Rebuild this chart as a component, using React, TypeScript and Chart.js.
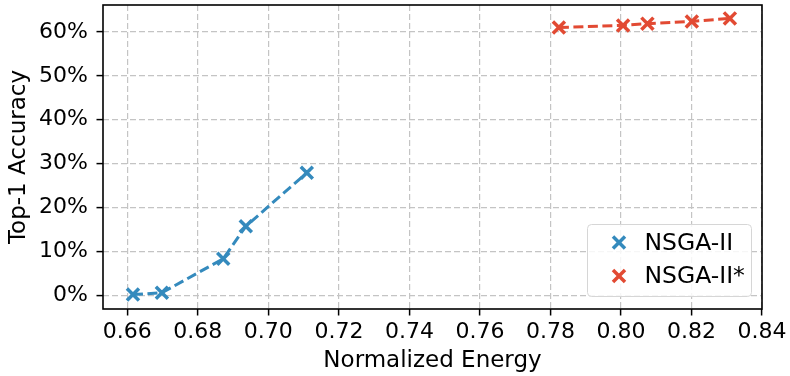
import React, { useEffect, useRef } from "react";
import { Chart, registerables } from "chart.js";

Chart.register(...registerables);

const X_TICKS = [0.66, 0.68, 0.7, 0.72, 0.74, 0.76, 0.78, 0.8, 0.82, 0.84];
const Y_TICKS = [0, 10, 20, 30, 40, 50, 60];

const NSGA2_LABEL = "NSGA-II";
const NSGA2_ENERGY = [0.6616, 0.6698, 0.6872, 0.6936, 0.7109];
const NSGA2_ACC = [0.15, 0.55, 8.3, 15.7, 27.9];

const NSGA2S_LABEL = "NSGA-II*";
const NSGA2S_ENERGY = [0.7824, 0.8006, 0.8075, 0.8201, 0.8309];
const NSGA2S_ACC = [61.0, 61.5, 61.9, 62.4, 63.1];

const BLUE = "#348ABD";
const RED = "#E24A33";
const FONT = "'DejaVu Sans', sans-serif";

function drawX(ctx: CanvasRenderingContext2D, x: number, y: number, r: number, color: string, w: number) {
  const o = r * Math.SQRT1_2;
  ctx.save();
  ctx.strokeStyle = color;
  ctx.lineWidth = w;
  ctx.beginPath();
  ctx.moveTo(x - o, y - o);
  ctx.lineTo(x + o, y + o);
  ctx.moveTo(x + o, y - o);
  ctx.lineTo(x - o, y + o);
  ctx.stroke();
  ctx.restore();
}

const framePlugin = {
  id: "frame",
  afterDraw(chart: any) {
    const { ctx, chartArea: a } = chart;
    ctx.save();
    ctx.strokeStyle = "#000";
    ctx.lineWidth = 1.6;
    ctx.strokeRect(a.left, a.top, a.right - a.left, a.bottom - a.top);
    ctx.restore();

    // legend
    const w = 164;
    const h = 72;
    const left = a.right - 10.5 - w;
    const top = a.bottom - 12.5 - h;
    ctx.save();
    ctx.beginPath();
    const r = 4;
    ctx.moveTo(left + r, top);
    ctx.arcTo(left + w, top, left + w, top + h, r);
    ctx.arcTo(left + w, top + h, left, top + h, r);
    ctx.arcTo(left, top + h, left, top, r);
    ctx.arcTo(left, top, left + w, top, r);
    ctx.closePath();
    ctx.fillStyle = "rgba(255,255,255,0.85)";
    ctx.fill();
    ctx.strokeStyle = "#d6d6d6";
    ctx.lineWidth = 1;
    ctx.stroke();
    chart.data.datasets.forEach((ds: any, i: number) => {
      const cy = top + 18 + i * 33.5;
      drawX(ctx, left + 31.5, cy, 8.5, ds.borderColor, 3.5);
      ctx.fillStyle = "#000";
      ctx.font = `23.5px ${FONT}`;
      ctx.textBaseline = "middle";
      ctx.textAlign = "left";
      ctx.fillText(ds.label, left + 57, cy + 1);
    });
    ctx.restore();
  },
};

export default function App() {
  const ref = useRef<HTMLCanvasElement | null>(null);
  useEffect(() => {
    document.body.style.margin = "0";
    const mk = (xs: number[], ys: number[]) => xs.map((x, i) => ({ x, y: ys[i] }));
    const dsStyle = (color: string) => ({
      borderColor: color,
      backgroundColor: color,
      pointStyle: "crossRot",
      pointRadius: 8.5,
      pointHoverRadius: 8.5,
      pointBorderWidth: 3.5,
      borderWidth: 3,
      borderDash: [10, 4.5],
      showLine: true,
      fill: false,
      clip: false,
    });
    const gridCommon = {
      color: "#c4c4c4",
      lineWidth: 1.2,
      tickColor: "#000",
      tickLength: 6.5,
      tickWidth: 1.5,
      drawTicks: true,
    };
    const chart = new Chart(ref.current as HTMLCanvasElement, {
      type: "scatter",
      data: {
        datasets: [
          { label: NSGA2_LABEL, data: mk(NSGA2_ENERGY, NSGA2_ACC), ...dsStyle(BLUE) } as any,
          { label: NSGA2S_LABEL, data: mk(NSGA2S_ENERGY, NSGA2S_ACC), ...dsStyle(RED) } as any,
        ],
      },
      options: {
        responsive: false,
        animation: false,
        devicePixelRatio: 1,
        layout: { autoPadding: false, padding: { top: 5, right: 28, left: 0, bottom: 0 } },
        plugins: { legend: { display: false }, tooltip: { enabled: false } },
        scales: {
          x: {
            type: "linear",
            min: 0.6531,
            max: 0.84,
            grid: gridCommon,
            border: { display: false, dash: [6, 3] },
            ticks: {
              font: { family: FONT, size: 22 },
              color: "#000",
              padding: 3.5,
              maxRotation: 0,
              autoSkip: false,
              callback: (v: any) => Number(v).toFixed(2),
            },
            title: {
              display: true,
              text: "Normalized Energy",
              font: { family: FONT, size: 23 },
              color: "#000",
              padding: { top: 0, bottom: 1 },
            },
            afterBuildTicks: (s: any) => {
              s.ticks = X_TICKS.map((v) => ({ value: v }));
            },
            afterFit: (s: any) => {
              s.height = 67;
              s.paddingLeft = 0;
              s.paddingRight = 0;
            },
          },
          y: {
            type: "linear",
            min: -3.15,
            max: 66.15,
            grid: gridCommon,
            border: { display: false, dash: [6, 3] },
            ticks: {
              font: { family: FONT, size: 22 },
              color: "#000",
              padding: 8.5,
              autoSkip: false,
              callback: (v: any) => `${Math.round(Number(v))}%`,
            },
            title: {
              display: true,
              text: "Top-1 Accuracy",
              font: { family: FONT, size: 23 },
              color: "#000",
              padding: { top: 5, bottom: 0 },
            },
            afterBuildTicks: (s: any) => {
              s.ticks = Y_TICKS.map((v) => ({ value: v }));
            },
            afterFit: (s: any) => {
              s.width = 103;
              s.paddingTop = 0;
              s.paddingBottom = 0;
            },
          },
        },
      },
      plugins: [framePlugin],
    });
    return () => chart.destroy();
  }, []);
  return (
    <div style={{ width: 790, height: 376 }}>
      <canvas ref={ref} width={790} height={376} />
    </div>
  );
}
